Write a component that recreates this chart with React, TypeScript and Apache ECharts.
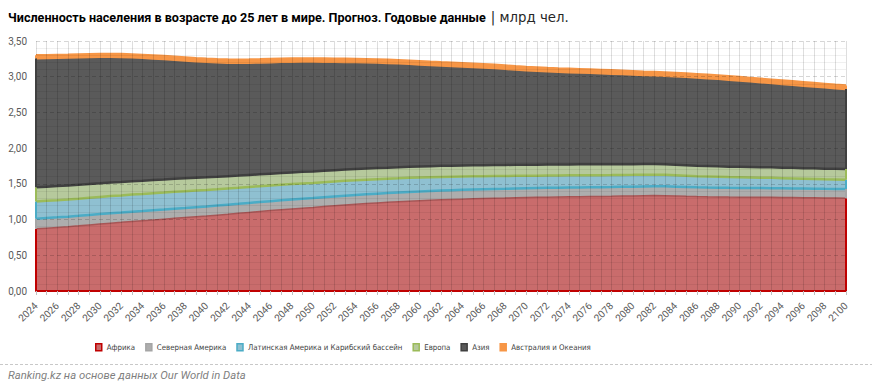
import React, { useEffect, useRef } from "react";
import * as echarts from "echarts";

const years: string[] = [];
for (let y = 2024; y <= 2100; y++) years.push(String(y));

const africa = [
  0.870, 0.880, 0.890, 0.900, 0.912, 0.925, 0.938,
  0.950, 0.961, 0.973, 0.984, 0.995, 1.006, 1.017, 1.028, 1.039, 1.050,
  1.062, 1.074, 1.087, 1.100, 1.113, 1.126, 1.138, 1.149, 1.160, 1.170,
  1.182, 1.193, 1.204, 1.214, 1.224, 1.233, 1.241, 1.249, 1.257, 1.264,
  1.270, 1.276, 1.281, 1.286, 1.290, 1.294, 1.298, 1.301, 1.305, 1.308,
  1.311, 1.314, 1.316, 1.318, 1.320, 1.322, 1.324, 1.326, 1.329, 1.331,
  1.334, 1.336, 1.335, 1.331, 1.326, 1.322, 1.319, 1.317, 1.315, 1.314,
  1.313, 1.312, 1.311, 1.310, 1.308, 1.306, 1.304, 1.302, 1.301, 1.300,
];
const northAmerica = [
  0.142, 0.142, 0.141, 0.141, 0.140, 0.140, 0.139,
  0.139, 0.138, 0.138, 0.137, 0.137, 0.136, 0.136, 0.135, 0.135, 0.134,
  0.134, 0.134, 0.133, 0.133, 0.133, 0.132, 0.132, 0.132, 0.132, 0.131,
  0.131, 0.131, 0.131, 0.131, 0.131, 0.130, 0.130, 0.130, 0.130, 0.130,
  0.130, 0.130, 0.130, 0.130, 0.130, 0.130, 0.130, 0.130, 0.130, 0.130,
  0.130, 0.130, 0.130, 0.130, 0.130, 0.130, 0.130, 0.130, 0.130, 0.130,
  0.130, 0.130, 0.130, 0.130, 0.130, 0.129, 0.129, 0.129, 0.129, 0.129,
  0.129, 0.129, 0.129, 0.128, 0.128, 0.128, 0.128, 0.128, 0.128, 0.128,
];
const latinAmerica = [
  0.240, 0.241, 0.241, 0.241, 0.241, 0.240, 0.240,
  0.240, 0.239, 0.239, 0.238, 0.237, 0.236, 0.235, 0.234, 0.232, 0.231,
  0.229, 0.228, 0.226, 0.224, 0.222, 0.220, 0.218, 0.216, 0.214, 0.212,
  0.210, 0.209, 0.207, 0.205, 0.204, 0.202, 0.200, 0.198, 0.197, 0.195,
  0.193, 0.191, 0.189, 0.187, 0.185, 0.183, 0.181, 0.179, 0.177, 0.175,
  0.174, 0.173, 0.172, 0.171, 0.170, 0.169, 0.168, 0.167, 0.166, 0.165,
  0.164, 0.163, 0.162, 0.160, 0.158, 0.156, 0.155, 0.153, 0.151, 0.150,
  0.148, 0.146, 0.144, 0.142, 0.140, 0.138, 0.136, 0.134, 0.132, 0.130,
];
const europe = [
  0.200, 0.198, 0.197, 0.195, 0.194, 0.192, 0.190,
  0.189, 0.188, 0.187, 0.186, 0.185, 0.183, 0.182, 0.180, 0.178, 0.176,
  0.174, 0.172, 0.170, 0.168, 0.166, 0.165, 0.164, 0.163, 0.162, 0.161,
  0.160, 0.159, 0.158, 0.158, 0.157, 0.157, 0.156, 0.156, 0.156, 0.155,
  0.155, 0.155, 0.155, 0.155, 0.155, 0.155, 0.155, 0.155, 0.155, 0.155,
  0.154, 0.154, 0.153, 0.153, 0.153, 0.152, 0.152, 0.151, 0.151, 0.150,
  0.150, 0.149, 0.149, 0.148, 0.148, 0.147, 0.147, 0.146, 0.146, 0.146,
  0.146, 0.146, 0.147, 0.147, 0.148, 0.148, 0.149, 0.149, 0.150, 0.150,
];
const asia = [
  1.808, 1.801, 1.796, 1.791, 1.785, 1.779, 1.771,
  1.760, 1.750, 1.734, 1.719, 1.701, 1.686, 1.668, 1.651, 1.634, 1.617,
  1.602, 1.589, 1.580, 1.572, 1.566, 1.561, 1.556, 1.551, 1.545, 1.539,
  1.528, 1.517, 1.507, 1.497, 1.486, 1.476, 1.466, 1.454, 1.440, 1.428,
  1.415, 1.404, 1.395, 1.386, 1.377, 1.368, 1.357, 1.346, 1.334, 1.324,
  1.314, 1.304, 1.298, 1.292, 1.286, 1.281, 1.275, 1.269, 1.261, 1.255,
  1.246, 1.241, 1.237, 1.237, 1.236, 1.235, 1.230, 1.225, 1.218, 1.209,
  1.199, 1.190, 1.180, 1.172, 1.163, 1.155, 1.146, 1.138, 1.128, 1.120,
];
const oceania = [
  0.040, 0.040, 0.040, 0.040, 0.040, 0.040, 0.040,
  0.041, 0.041, 0.041, 0.041, 0.042, 0.042, 0.042, 0.042, 0.042, 0.043,
  0.043, 0.043, 0.043, 0.043, 0.043, 0.043, 0.043, 0.043, 0.043, 0.043,
  0.044, 0.044, 0.044, 0.044, 0.044, 0.044, 0.044, 0.044, 0.044, 0.044,
  0.045, 0.045, 0.045, 0.045, 0.045, 0.045, 0.045, 0.045, 0.045, 0.045,
  0.046, 0.046, 0.046, 0.046, 0.046, 0.046, 0.046, 0.046, 0.046, 0.046,
  0.047, 0.047, 0.047, 0.047, 0.047, 0.047, 0.047, 0.047, 0.047, 0.047,
  0.048, 0.048, 0.048, 0.048, 0.048, 0.048, 0.048, 0.048, 0.048, 0.048,
];

const seriesNames = [
  "Африка",
  "Северная Америка",
  "Латинская Америка и Карибский бассейн",
  "Европа",
  "Азия",
  "Австралия и Океания",
];
const seriesData = [africa, northAmerica, latinAmerica, europe, asia, oceania];
const fills = ["#c96c6c", "#adadad", "#8fc0d1", "#b6c99c", "#5a5a5a", "#f79646"];
const edges = ["#c00000", "#a5a5a5", "#4bacc6", "#9bbb59", "#404040", "#f79646"];
const topLines = ["#a85656", "#4bacc6", "#9bbb59", "#404040", "#f79646", "#f79646"];

const title = "Численность населения в возрасте до 25 лет в мире. Прогноз. Годовые данные";
const unit = "| млрд чел.";
const source = "Ranking.kz на основе данных Our World in Data";

const NARROW = "'DejaVu Sans Condensed', 'DejaVu Sans', sans-serif";
const SANS = "Roboto, 'Noto Sans', sans-serif";

export default function App() {
  const ref = useRef<HTMLDivElement>(null);
  useEffect(() => {
    const chart = echarts.init(ref.current!, null, { renderer: "svg" });
    const n = years.length;
    const cum: number[][] = [];
    let base = new Array(n).fill(0);
    seriesData.forEach((d) => {
      const next = base.map((b, i) => b + d[i]);
      cum.push(next);
      base = next;
    });
    const lower = (k: number, i: number) => (k === 0 ? 0 : cum[k - 1][i]);

    const areaSeries = seriesData.map((d, k) => ({
      name: seriesNames[k],
      type: "line",
      stack: "area",
      data: d,
      symbol: "none",
      z: 2,
      lineStyle: { width: 0 },
      areaStyle: { color: fills[k], opacity: 1 },
      itemStyle: { color: fills[k] },
      markLine: {
        silent: true,
        symbol: ["none", "none"],
        label: { show: false },
        lineStyle: { color: edges[k], width: 2, type: "solid" },
        data: [
          [{ coord: [years[0], lower(k, 0)] }, { coord: [years[0], cum[k][0]] }],
          [{ coord: [years[n - 1], lower(k, n - 1)] }, { coord: [years[n - 1], cum[k][n - 1]] }],
        ],
      },
    }));
    const lineSeries = seriesData.map((d, k) => ({
      name: "_line" + k,
      type: "line",
      stack: "lines",
      data: d,
      symbol: "none",
      silent: true,
      z: 3,
      lineStyle: { color: topLines[k], width: k === 0 ? 1.5 : 2.5 },
    }));

    chart.setOption({
      animation: false,
      backgroundColor: "#ffffff",
      title: {
        left: 8,
        top: 8,
        padding: 0,
        text: `{b|${title}} {n|${unit}}`,
        textStyle: {
          rich: {
            b: { fontFamily: SANS, fontSize: 12.6, fontWeight: "bold", color: "#000000" },
            n: { fontFamily: "'DejaVu Sans', sans-serif", fontSize: 13.3, fontWeight: "normal", color: "#262626" },
          },
        },
      },
      legend: {
        left: 90,
        top: 338,
        itemWidth: 6,
        itemHeight: 7,
        itemGap: 10,
        icon: "rect",
        textStyle: { fontFamily: NARROW, fontSize: 7.8, color: "#404040" },
        data: seriesNames.map((nm, k) => ({
          name: nm,
          itemStyle: { color: fills[k], borderColor: edges[k], borderWidth: 1.5 },
        })),
      },
      grid: { left: 36, right: 26, top: 41, bottom: 99, containLabel: false },
      xAxis: {
        type: "category",
        data: years,
        boundaryGap: false,
        z: 5,
        axisLine: { show: true, lineStyle: { color: "#c00000", width: 2 } },
        axisTick: { show: true, interval: 0, length: 4, lineStyle: { color: "#bfbfbf" } },
        axisLabel: {
          interval: 1,
          rotate: 45,
          fontSize: 10,
          fontFamily: SANS,
          color: "#595959",
          margin: 13,
        },
        splitLine: { show: true, interval: 0, lineStyle: { color: "rgba(0,0,0,0.13)", width: 1 } },
      },
      yAxis: {
        type: "value",
        min: 0,
        max: 3.5,
        interval: 0.5,
        z: 5,
        axisLine: { show: false },
        axisTick: { show: false },
        axisLabel: {
          fontSize: 10,
          fontFamily: SANS,
          color: "#595959",
          margin: 9,
          formatter: (v: number) => v.toFixed(2).replace(".", ","),
        },
        splitLine: { show: true, lineStyle: { color: "rgba(0,0,0,0.16)", type: [4, 3] } },
        minorTick: { show: false, splitNumber: 5 },
        minorSplitLine: { show: true, lineStyle: { color: "rgba(0,0,0,0.06)" } },
      },
      graphic: [
        {
          type: "line",
          shape: { x1: 0, y1: 364.5, x2: 872, y2: 364.5 },
          style: { stroke: "#c8c8c8", lineWidth: 1, lineDash: [3, 2] },
          silent: true,
        },
        {
          type: "text",
          left: 8,
          top: 370,
          style: {
            text: source,
            fontFamily: SANS,
            fontStyle: "italic",
            fontSize: 11.3,
            fill: "#7f7f7f",
          },
          silent: true,
        },
      ],
      series: [...areaSeries, ...lineSeries],
    });
    return () => chart.dispose();
  }, []);
  return (
    <div
      ref={ref}
      style={{ position: "absolute", left: 0, top: 0, width: 872, height: 390 }}
    />
  );
}
